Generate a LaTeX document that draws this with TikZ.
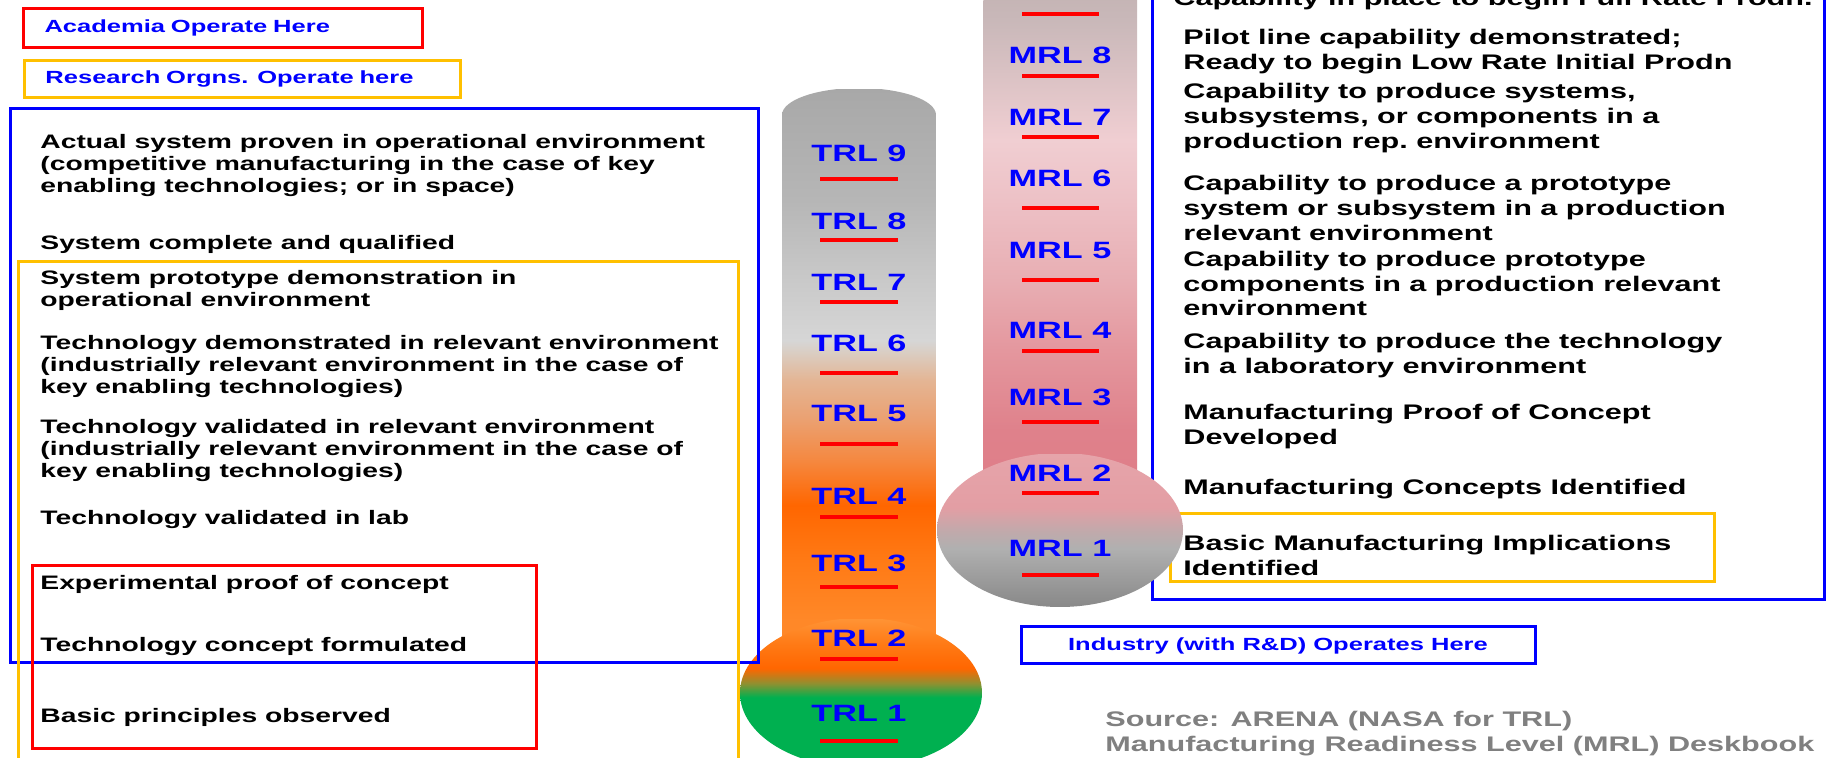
\documentclass[tikz,border=0pt]{standalone}
\usepackage{fontspec}
\newfontfamily\slidefont{Liberation Sans}[FakeStretch=1.45]

\definecolor{tagblue}{HTML}{0000FF}
\definecolor{zonered}{HTML}{FF0000}
\definecolor{zoneorange}{HTML}{FFC000}
\definecolor{srcgray}{HTML}{808080}

\definecolor{trlA}{HTML}{A8A8A8}
\definecolor{trlB}{HTML}{B6B6B6}
\definecolor{trlC}{HTML}{C9C9C9}
\definecolor{trlD}{HTML}{D6D6D6}
\definecolor{trlE}{HTML}{D9CFC6}
\definecolor{trlF}{HTML}{E4B594}
\definecolor{trlG}{HTML}{EBA070}
\definecolor{trlH}{HTML}{F58840}
\definecolor{trlI}{HTML}{FF6600}
\definecolor{trlJ}{HTML}{FF7A15}
\definecolor{trlK}{HTML}{FF8828}
\definecolor{bulbG}{HTML}{00B050}
\definecolor{bulbO}{HTML}{909030}
\definecolor{bulbT}{HTML}{FF9435}

\definecolor{mrlA}{HTML}{C2B2B2}
\definecolor{mrlB}{HTML}{C9B8B9}
\definecolor{mrlC}{HTML}{DCC3C5}
\definecolor{mrlD}{HTML}{F0CED2}
\definecolor{mrlE}{HTML}{EDC1C6}
\definecolor{mrlF}{HTML}{E8AEB3}
\definecolor{mrlG}{HTML}{E4979E}
\definecolor{mrlH}{HTML}{DF818B}
\definecolor{mrlI}{HTML}{DE7A85}
\definecolor{mbulbA}{HTML}{888888}
\definecolor{mbulbB}{HTML}{B0B0B0}
\definecolor{mbulbC}{HTML}{C2A9AB}
\definecolor{mbulbD}{HTML}{E39EA4}
\definecolor{mbulbE}{HTML}{E6A4AA}

\pgfdeclareverticalshading{trlcolumn}{77pt}{color(0pt)=(trlK); color(35pt)=(trlK); color(65pt)=(trlJ); color(92.5pt)=(trlI); color(115pt)=(trlH); color(135pt)=(trlG); color(155pt)=(trlF); color(170pt)=(trlE); color(175pt)=(trlD); color(205pt)=(trlC); color(245pt)=(trlB); color(301pt)=(trlA)}
\pgfdeclareverticalshading{trlbulbshade}{121pt}{color(0pt)=(bulbG); color(35.5pt)=(bulbG); color(42.5pt)=(bulbO); color(50pt)=(trlI); color(62pt)=(trlJ); color(75pt)=(bulbT)}
\pgfdeclareverticalshading{mrlcolumn}{77pt}{color(0pt)=(mrlI); color(65pt)=(mrlH); color(105pt)=(mrlG); color(140pt)=(mrlF); color(180pt)=(mrlE); color(210pt)=(mrlD); color(240pt)=(mrlC); color(270pt)=(mrlB); color(290pt)=(mrlA)}
\pgfdeclareverticalshading{mrlbulbshade}{123pt}{color(0pt)=(mbulbA); color(29.5pt)=(mbulbB); color(38.5pt)=(mbulbC); color(50pt)=(mbulbD); color(77pt)=(mbulbE)}

\begin{document}
\begin{tikzpicture}[x=0.5pt, y=-0.5pt,
    zone/.style={line width=1.5pt},
    tick/.style={draw=zonered, line width=2pt},
    level/.style={anchor=base, inner sep=0pt, text=tagblue,
                  font=\slidefont\bfseries\fontsize{11.8}{14}\selectfont},
    trltext/.style={anchor=base west, align=left, inner sep=0pt,
                    font=\slidefont\bfseries\fontsize{9.75}{11}\selectfont},
    mrltext/.style={anchor=base west, align=left, inner sep=0pt,
                    font=\slidefont\bfseries\fontsize{10.55}{12.3}\selectfont},
    tagbox/.style={draw, line width=1.5pt, inner sep=0pt, text=tagblue,
                   font=\slidefont\bfseries\fontsize{8.8}{10}\selectfont}
]
    \clip (0,0) rectangle (1827,758);
    \fill[white] (0,0) rectangle (1827,758);

    \begin{scope}
        \clip (782,690) -- (782,115) arc[start angle=180, end angle=360, x radius=77, y radius=27] -- (936,690) -- cycle;
        \node[inner sep=0pt, anchor=north west] (trlcol) at (782,88) {\pgfuseshading{trlcolumn}};
    \end{scope}
    \begin{scope}
        \clip (861,693) ellipse[x radius=121, y radius=75];
        \node[inner sep=0pt, anchor=north west] (trlbulb) at (740,618) {\pgfuseshading{trlbulbshade}};
    \end{scope}

    \draw[zone, draw=tagblue]    (10,109) rectangle (758,663);
    \draw[zone, draw=zoneorange] (18,262) rectangle (738,775);
    \draw[zone, draw=zonered]    (32,566) rectangle (536,749);
    \draw[zone, draw=tagblue]    (1152,-10) rectangle (1824,600);
    \draw[zone, draw=zoneorange] (1170,514) rectangle (1714,582);

    \begin{scope}
        \clip (983,-20) rectangle (1137,560);
        \node[inner sep=0pt, anchor=north west] (mrlcol) at (983,-20) {\pgfuseshading{mrlcolumn}};
    \end{scope}
    \begin{scope}
        \clip (1060,530) ellipse[x radius=123, y radius=77];
        \node[inner sep=0pt, anchor=north west] (mrlbulb) at (937,453) {\pgfuseshading{mrlbulbshade}};
    \end{scope}

    \foreach \y in {179,240,302,373,444,517,587,659,741}
        \draw[tick] (820,\y) -- (898,\y);
    \foreach \y in {14,76,137,208,280,351,422,493,575}
        \draw[tick] (1022,\y) -- (1099,\y);

    \foreach \n/\y in {9/162,8/230,7/291,6/352,5/422,4/505,3/572,2/647,1/722}
        \node[level] (trl\n) at (859,\y) {TRL \n};
    \foreach \n/\y in {8/64,7/126,6/187,5/259,4/339,3/406,2/482,1/557}
        \node[level] (mrl\n) at (1060,\y) {MRL \n};

    \node[tagbox, draw=zonered, anchor=north west, inner xsep=10.5pt, text width=178.5pt,
          align=left, minimum height=19.5pt] (academia) at (22,7) {Academia Operate Here};
    \node[tagbox, draw=zoneorange, anchor=north west, inner xsep=10.5pt, text width=197pt,
          align=left, minimum height=18.5pt] (research) at (23,59) {Research Orgns. Operate here};
    \node[tagbox, draw=tagblue, minimum width=257pt, minimum height=18.5pt] (industry)
          at (1278,645.5) {Industry (with R\&D) Operates Here};

    \node[trltext] (actual)     at (40,193) {Actual system proven in operational environment\\(competitive manufacturing in the case of key\\enabling technologies; or in space)};
    \node[trltext] (complete)   at (40,250) {System complete and qualified};
    \node[trltext] (prototype)  at (40,307) {System prototype demonstration in\\operational environment};
    \node[trltext] (relenv)     at (40,394) {Technology demonstrated in relevant environment\\(industrially relevant environment in the case of\\key enabling technologies)};
    \node[trltext] (relval)     at (40,478) {Technology validated in relevant environment\\(industrially relevant environment in the case of\\key enabling technologies)};
    \node[trltext] (lab)        at (40,525) {Technology validated in lab};
    \node[trltext] (proof)      at (40,590) {Experimental proof of concept};
    \node[trltext] (concept)    at (40,652) {Technology concept formulated};
    \node[trltext] (principles) at (40,723) {Basic principles observed};

    \node[mrltext] (fullrate)     at (1173,6)     {Capability in place to begin Full Rate Prodn.};
    \node[mrltext] (pilot)        at (1183,69.6)  {Pilot line capability demonstrated;\\Ready to begin Low Rate Initial Prodn};
    \node[mrltext] (systems)      at (1183,148.2) {Capability to produce systems,\\subsystems, or components in a\\production rep.\ environment};
    \node[mrltext] (protosys)     at (1183,240.2) {Capability to produce a prototype\\system or subsystem in a production\\relevant environment};
    \node[mrltext] (protocomp)    at (1183,315.7) {Capability to produce prototype\\components in a production relevant\\environment};
    \node[mrltext] (labenv)       at (1183,373.1) {Capability to produce the technology\\in a laboratory environment};
    \node[mrltext] (mfgproof)     at (1183,444.6) {Manufacturing Proof of Concept\\Developed};
    \node[mrltext] (mfgconcept)   at (1183,494.5) {Manufacturing Concepts Identified};
    \node[mrltext] (implications) at (1183,575.1) {Basic Manufacturing Implications\\Identified};
    \node[mrltext, text=srcgray] (source) at (1105,751.1) {Source: ARENA (NASA for TRL)\\Manufacturing Readiness Level (MRL) Deskbook};
\end{tikzpicture}
\end{document}
